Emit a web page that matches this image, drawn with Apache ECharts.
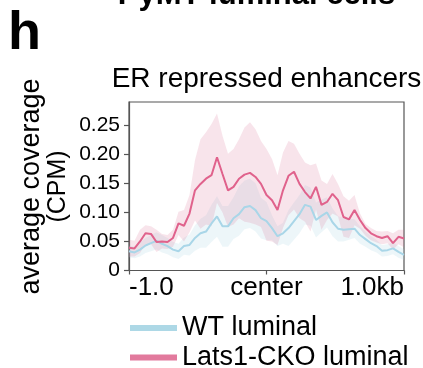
<!DOCTYPE html>
<html><head><meta charset="utf-8">
<script src="https://cdn.jsdelivr.net/npm/echarts@6/dist/echarts.min.js"></script>
<style>html,body{margin:0;padding:0;background:#fff}#c{width:423px;height:368px}</style>
</head><body><div id="c"></div>
<script>
const positions = ['-1.00','-0.96','-0.92','-0.88','-0.84','-0.80','-0.76','-0.72','-0.68','-0.64',
  '-0.60','-0.56','-0.52','-0.48','-0.44','-0.40','-0.36','-0.32','-0.28','-0.24',
  '-0.20','-0.16','-0.12','-0.08','-0.04','0.00','0.04','0.08','0.12','0.16',
  '0.20','0.24','0.28','0.32','0.36','0.40','0.44','0.48','0.52','0.56',
  '0.60','0.64','0.68','0.72','0.76','0.80','0.84','0.88','0.92','0.96','1.00'];
const xTickPositions = ['-1.00','0.00','1.00'];
const xTickLabels = ['-1.0','center','1.0kb'];
const yTicks = [0, 0.05, 0.10, 0.15, 0.20, 0.25];
const seriesNames = ['WT luminal', 'Lats1-CKO luminal'];

const wtMean = [0.033,0.031,0.036,0.043,0.047,0.051,0.046,0.042,0.036,0.033,
  0.042,0.044,0.056,0.064,0.067,0.081,0.093,0.076,0.076,0.090,
  0.097,0.109,0.111,0.104,0.090,0.085,0.073,0.059,0.064,0.073,
  0.085,0.097,0.113,0.110,0.087,0.094,0.100,0.083,0.072,0.070,
  0.071,0.072,0.061,0.054,0.047,0.042,0.034,0.035,0.038,0.032,0.027];
const wtUpper = [0.043,0.041,0.048,0.056,0.061,0.066,0.061,0.056,0.049,0.046,
  0.057,0.062,0.078,0.089,0.095,0.113,0.128,0.111,0.111,0.126,
  0.145,0.155,0.158,0.150,0.125,0.118,0.095,0.076,0.082,0.104,
  0.117,0.130,0.147,0.143,0.117,0.122,0.126,0.107,0.094,0.090,
  0.089,0.088,0.076,0.067,0.059,0.053,0.044,0.045,0.048,0.042,0.036];
const wtLower = [0.023,0.021,0.024,0.030,0.033,0.036,0.031,0.028,0.023,0.020,
  0.027,0.026,0.034,0.039,0.039,0.049,0.058,0.041,0.041,0.054,
  0.060,0.071,0.073,0.067,0.055,0.052,0.052,0.042,0.046,0.042,
  0.053,0.064,0.079,0.077,0.057,0.066,0.074,0.059,0.050,0.050,
  0.053,0.056,0.046,0.041,0.035,0.031,0.024,0.025,0.028,0.022,0.018];

const lats1Mean = [0.039,0.038,0.050,0.064,0.063,0.049,0.050,0.049,0.056,0.081,
  0.077,0.098,0.138,0.149,0.158,0.164,0.195,0.166,0.138,0.144,
  0.158,0.165,0.168,0.161,0.149,0.130,0.121,0.104,0.138,0.163,
  0.170,0.149,0.135,0.124,0.144,0.113,0.118,0.132,0.121,0.092,
  0.088,0.104,0.087,0.073,0.064,0.059,0.056,0.059,0.047,0.058,0.055];
const lats1Upper = [0.053,0.051,0.070,0.078,0.076,0.070,0.063,0.061,0.070,0.101,
  0.104,0.130,0.190,0.226,0.238,0.252,0.270,0.232,0.201,0.209,
  0.226,0.246,0.255,0.243,0.223,0.209,0.192,0.164,0.203,0.223,
  0.218,0.201,0.186,0.181,0.184,0.155,0.149,0.166,0.149,0.128,
  0.120,0.130,0.098,0.080,0.073,0.068,0.067,0.068,0.064,0.070,0.070];
const lats1Lower = [0.024,0.024,0.030,0.045,0.045,0.032,0.038,0.037,0.041,0.061,
  0.050,0.066,0.086,0.072,0.079,0.076,0.116,0.100,0.075,0.079,
  0.090,0.084,0.082,0.079,0.075,0.051,0.050,0.044,0.073,0.095,
  0.105,0.090,0.084,0.067,0.105,0.070,0.087,0.098,0.093,0.058,
  0.056,0.078,0.072,0.060,0.052,0.048,0.045,0.047,0.036,0.045,0.040];

const FONT = '"Liberation Sans", Arial, Helvetica, sans-serif';
const wtColor = '#a9d6e8';
const latsColor = '#e0628c';
const diff = (u, l) => u.map((v, i) => +(v - l[i]).toFixed(4));

const legendBase = {
  orient: 'vertical', left: 130, padding: 0,
  itemWidth: 47, itemHeight: 6, icon: 'rect',
  textStyle: {fontSize: 27, color: '#000', fontFamily: FONT}
};

const chart = echarts.init(document.getElementById('c'), null, {renderer: 'canvas'});
chart.setOption({
  animation: false,
  grid: {left: 129, top: 102, width: 275, height: 168.5, show: true, borderColor: '#555', borderWidth: 1.2},
  xAxis: {
    type: 'category', data: positions, boundaryGap: false,
    axisLine: {lineStyle: {color: '#555', width: 1.2}},
    axisTick: {interval: (i, v) => xTickPositions.includes(v), length: 4, lineStyle: {color: '#555', width: 1.2}},
    axisLabel: {
      interval: (i, v) => xTickPositions.includes(v),
      formatter: (v) => xTickLabels[xTickPositions.indexOf(v)],
      fontSize: 26, color: '#000', fontFamily: FONT, margin: 4,
      alignMinLabel: 'left', alignMaxLabel: 'right'
    },
    splitLine: {show: false}
  },
  yAxis: {
    type: 'value', min: 0, max: 0.29,
    axisLine: {show: true, lineStyle: {color: '#555', width: 1.2}},
    axisTick: {show: true, length: 5, customValues: yTicks, lineStyle: {color: '#555', width: 1.2}},
    axisLabel: {customValues: yTicks, formatter: (v) => v === 0 ? '0' : v.toFixed(2),
      fontSize: 21, color: '#000', fontFamily: FONT, margin: 9},
    splitLine: {show: false}
  },
  legend: [
    Object.assign({}, legendBase, {top: 314.5, data: [{name: seriesNames[0], itemStyle: {color: '#add8e6'}}]}),
    Object.assign({}, legendBase, {top: 344, data: [{name: seriesNames[1], itemStyle: {color: '#e27a9d'}}]})
  ],
  series: [
    {type: 'line', name: 'wtLow', data: wtLower, stack: 'wt', symbol: 'none', silent: true,
      lineStyle: {opacity: 0}},
    {type: 'line', name: 'wtBand', data: diff(wtUpper, wtLower), stack: 'wt', symbol: 'none', silent: true,
      lineStyle: {opacity: 0}, areaStyle: {color: 'rgba(173,216,230,0.32)'}},
    {type: 'line', name: 'latsLow', data: lats1Lower, stack: 'lats', symbol: 'none', silent: true,
      lineStyle: {opacity: 0}},
    {type: 'line', name: 'latsBand', data: diff(lats1Upper, lats1Lower), stack: 'lats', symbol: 'none', silent: true,
      lineStyle: {opacity: 0}, areaStyle: {color: 'rgba(219,112,147,0.27)'}},
    {type: 'line', name: seriesNames[0], data: wtMean, symbol: 'none', color: wtColor,
      lineStyle: {width: 2, color: wtColor}},
    {type: 'line', name: seriesNames[1], data: lats1Mean, symbol: 'none', color: latsColor,
      lineStyle: {width: 2, color: latsColor}}
  ],
  graphic: [
    {type: 'text', x: 8, y: 33.8, style: {text: 'h', fontSize: 54, fontWeight: 'bold', fontFamily: FONT, fill: '#000', align: 'left', verticalAlign: 'middle'}},
    {type: 'text', x: 256.5, y: -4.7, style: {text: 'PyMT luminal cells', fontSize: 31, fontWeight: 'bold', fontFamily: FONT, fill: '#000', align: 'center', verticalAlign: 'middle'}},
    {type: 'text', x: 266.5, y: 78.8, style: {text: 'ER repressed enhancers', fontSize: 28, fontFamily: FONT, fill: '#000', align: 'center', verticalAlign: 'middle'}},
    {type: 'text', x: 31.4, y: 186.5, rotation: Math.PI / 2, style: {text: 'average coverage', fontSize: 27, fontFamily: FONT, fill: '#000', align: 'center', verticalAlign: 'middle'}},
    {type: 'text', x: 58, y: 186.5, rotation: Math.PI / 2, style: {text: '(CPM)', fontSize: 25, fontFamily: FONT, fill: '#000', align: 'center', verticalAlign: 'middle'}}
  ]
});
</script></body></html>
